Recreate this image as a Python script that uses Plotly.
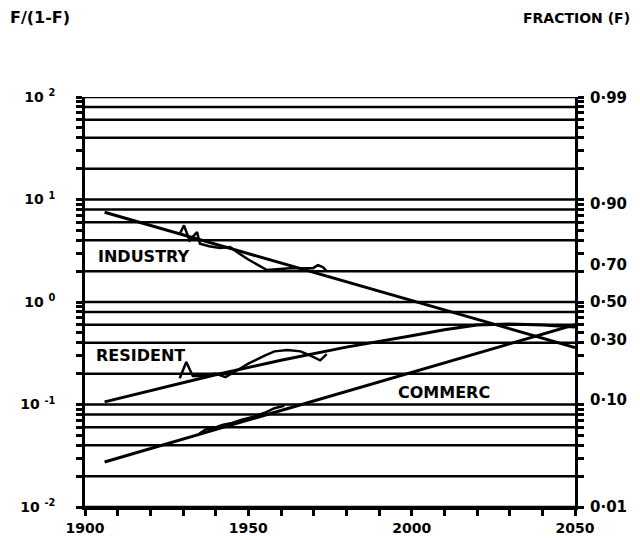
import numpy as np
import plotly.graph_objects as go

# fitted substitution curves (F/(1-F))
industry_fit_years = [1906, 2050]
industry_fit = [7.5, 0.36]
commerce_fit_years = [1906, 2050]
commerce_fit = [0.0275, 0.60]
resident_fit_years = [1906, 1920, 1940, 1960, 1980, 2000, 2010, 2020, 2030, 2040, 2050]
resident_fit = [0.106, 0.136, 0.195, 0.27, 0.363, 0.468, 0.537, 0.596, 0.61, 0.596, 0.57]

# historical data (F/(1-F))
industry_years = [1929, 1930.3, 1932, 1934.3, 1935.2, 1938, 1941.3, 1944.4, 1946.5, 1950, 1955.7, 1962.7, 1969.8, 1971.3, 1972.8, 1974]
industry_data = [4.6, 5.6, 4.0, 4.8, 3.7, 3.5, 3.36, 3.44, 3.07, 2.6, 2.05, 2.14, 2.14, 2.29, 2.19, 2.0]
resident_years = [1929, 1931, 1933, 1936, 1940, 1943, 1946, 1950, 1955, 1958, 1962, 1966, 1969, 1972, 1974]
resident_data = [0.18, 0.26, 0.19, 0.19, 0.20, 0.185, 0.21, 0.25, 0.30, 0.33, 0.34, 0.33, 0.30, 0.27, 0.31]
commerce_years = [1935, 1937, 1939, 1942, 1945, 1948, 1951, 1955, 1958, 1961]
commerce_data = [0.052, 0.057, 0.058, 0.063, 0.066, 0.071, 0.075, 0.083, 0.092, 0.097]

# axis ticks
decades = [-2, -1, 0, 1, 2]
fraction_labels = [0.99, 0.90, 0.70, 0.50, 0.30, 0.10, 0.01]
grid_mults = [1, 2, 4, 6, 8]

FONT = "DejaVu Sans"

fig = go.Figure()

for xs, ys in [(industry_fit_years, industry_fit), (resident_fit_years, resident_fit),
               (commerce_fit_years, commerce_fit)]:
    fig.add_trace(go.Scatter(x=xs, y=ys, mode="lines", line=dict(color="black", width=3),
                             showlegend=False, hoverinfo="skip"))

for xs, ys in [(industry_years, industry_data), (resident_years, resident_data),
               (commerce_years, commerce_data)]:
    fig.add_trace(go.Scatter(x=xs, y=ys, mode="lines", line=dict(color="black", width=2.5),
                             showlegend=False, hoverinfo="skip"))

# invisible trace to carry the right-hand fraction axis
fig.add_trace(go.Scatter(x=industry_fit_years, y=industry_fit, yaxis="y2", mode="lines",
                         line=dict(color="rgba(0,0,0,0)"), showlegend=False, hoverinfo="skip"))

# horizontal grid
for k in decades[:-1]:
    for m in grid_mults:
        fig.add_hline(y=m * 10.0 ** k, line=dict(color="black", width=2.5), layer="below")
fig.add_hline(y=10.0 ** decades[-1], line=dict(color="black", width=2.5), layer="below")

# left ticks at 1..9 in each decade, labelled only at the decades
ytick_vals, ytick_text = [], []
for k in decades:
    for m in (range(1, 10) if k < decades[-1] else [1]):
        ytick_vals.append(m * 10.0 ** k)
        ytick_text.append(f"10 <sup>{k}</sup>" if m == 1 else " ")

xtick_vals = list(range(1900, 2051, 10))
xtick_text = [str(v) if v % 50 == 0 else " " for v in xtick_vals]

tickfont = dict(family=FONT, size=14, color="black", weight="bold")

# page body adds an 8px offset, so the figure is drawn 8px smaller
fig.update_layout(
    width=632, height=532,
    margin=dict(l=77, r=65, t=89, b=33, autoexpand=False),
    paper_bgcolor="white", plot_bgcolor="white",
    xaxis=dict(range=[1900, 2050], showgrid=False, zeroline=False, automargin=False,
               showline=True, linecolor="black", linewidth=2.5, mirror=False,
               tickvals=xtick_vals, ticktext=xtick_text, ticks="outside",
               ticklen=6, tickwidth=2.5, tickcolor="black", tickfont=tickfont),
    yaxis=dict(type="log", range=[-2, 2], showgrid=False, zeroline=False, automargin=False,
               showline=True, linecolor="black", linewidth=2.5, mirror="ticks",
               tickvals=ytick_vals, ticktext=ytick_text, ticks="outside",
               ticklen=6, tickwidth=2.5, tickcolor="black", tickfont=tickfont,
               ticklabelstandoff=18),
    yaxis2=dict(type="log", range=[-2, 2], overlaying="y", side="right", automargin=False,
                showgrid=False, zeroline=False, showline=False, ticks="",
                tickvals=[f / (1 - f) for f in fraction_labels],
                ticktext=[f"{f:.2f}".replace(".", "·") for f in fraction_labels],
                tickfont=dict(tickfont, size=15), ticklabelstandoff=14),
)

labfont = dict(family=FONT, size=16, color="black", weight="bold")
fig.add_annotation(x=1918, y=np.log10(2.75), text="INDUSTRY", showarrow=False, font=labfont)
fig.add_annotation(x=1917, y=np.log10(0.30), text="RESIDENT", showarrow=False, font=labfont)
fig.add_annotation(x=2010, y=np.log10(0.13), text="COMMERC", showarrow=False, font=labfont)

topfont = dict(family=FONT, size=14, color="black", weight="bold")
fig.add_annotation(xref="paper", yref="paper", x=-0.157, y=1.193, xanchor="left",
                   yanchor="middle", text="F/(1-F)", showarrow=False, font=dict(topfont, size=16))
fig.add_annotation(xref="paper", yref="paper", x=1.116, y=1.193, xanchor="right",
                   yanchor="middle", text="FRACTION (F)", showarrow=False, font=topfont)

fig.write_html("out.html")
